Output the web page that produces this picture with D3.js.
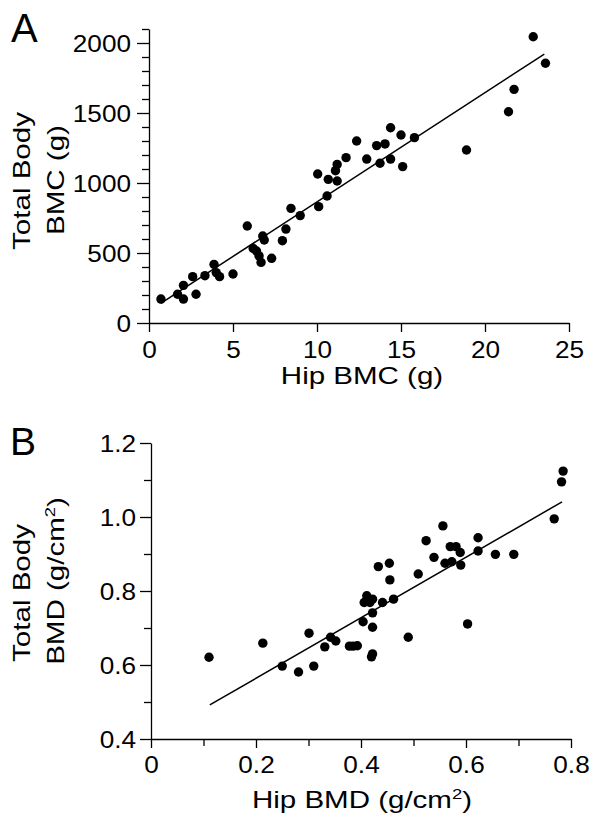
<!DOCTYPE html>
<html><head><meta charset="utf-8">
<script src="https://cdn.jsdelivr.net/npm/d3@7"></script>
<style>
html,body{margin:0;padding:0;background:#fff;}
svg{display:block;}
text{font-family:"Liberation Sans",Arial,Helvetica,sans-serif;fill:#000;}
</style></head>
<body>
<svg id="chart" width="590" height="817"></svg>
<script>
// Panel A: Hip BMC (g) vs Total Body BMC (g)
const hipBMC = [0.71,1.7,2.05,2.05,2.6,2.8,3.33,3.87,4.0,4.2,5.0,5.85,6.2,6.4,6.55,6.67,6.77,6.86,7.3,7.94,8.15,8.45,9.0,10.1,10.6,10.04,10.67,11.2,11.1,11.2,11.73,12.36,12.96,13.55,14.05,13.75,14.38,14.38,15.0,15.1,15.8,18.9,21.4,21.73,22.87,23.6];
const tbBMC  = [171,205,171,269,331,205,338,419,360,331,350,693,533,514,479,433,621,593,462,588,671,819,767,831,907,1064,1026,1014,1088,1133,1181,1300,1171,1267,1279,1141,1171,1395,1343,1117,1324,1236,1509,1669,2045,1855];
const fitA_x = [0.7, 23.53];
const fitA_y = [140, 1921];
const xTicksA = [0,5,10,15,20,25];
const yMajorA = [0,500,1000,1500,2000];
const yMinorA = [100,200,300,400,600,700,800,900,1100,1200,1300,1400,1600,1700,1800,1900,2100];

// Panel B: Hip BMD vs Total Body BMD (g/cm2)
const hipBMD = [0.1105,0.213,0.25,0.281,0.301,0.31,0.331,0.342,0.352,0.378,0.385,0.393,0.404,0.406,0.411,0.417,0.422,0.422,0.422,0.42,0.422,0.433,0.49,0.441,0.462,0.455,0.454,0.509,0.524,0.539,0.556,0.56,0.573,0.57,0.581,0.589,0.59,0.603,0.623,0.623,0.656,0.691,0.768,0.782,0.785];
const tbBMD  = [0.621,0.659,0.597,0.581,0.686,0.597,0.649,0.675,0.665,0.651,0.651,0.652,0.717,0.769,0.787,0.769,0.778,0.741,0.702,0.622,0.63,0.866,0.675,0.769,0.778,0.83,0.875,0.846,0.936,0.891,0.976,0.875,0.879,0.92,0.92,0.904,0.87,0.711,0.944,0.908,0.899,0.899,0.995,1.095,1.124];
const fitB_x = [0.112, 0.783];
const fitB_y = [0.492, 1.041];
const xMajorB = [0,0.2,0.4,0.6,0.8];
const xMinorB = [0.1,0.3,0.5,0.7];
const yMajorB = [0.4,0.6,0.8,1.0,1.2];
const yMinorB = [0.5,0.7,0.9,1.1];

const svg = d3.select("#chart");
const TICKFS = 24, TSX = 1.09, TITLEFS = 24, TITLESX = 1.23;

function drawPanel(o){
  const g = svg.append("g");
  const x = d3.scaleLinear().domain(o.xDomain).range(o.xRange);
  const y = d3.scaleLinear().domain(o.yDomain).range(o.yRange);

  if (o.yMinor.length){
    g.append("g").attr("transform",`translate(${o.xRange[0]},0)`)
      .call(d3.axisLeft(y).tickValues(o.yMinor).tickSize(7).tickFormat(""))
      .call(s=>s.select(".domain").remove());
  }
  if (o.xMinor.length){
    g.append("g").attr("transform",`translate(0,${o.yRange[0]})`)
      .call(d3.axisBottom(x).tickValues(o.xMinor).tickSize(7).tickFormat(""))
      .call(s=>s.select(".domain").remove());
  }
  const ya = g.append("g").attr("transform",`translate(${o.xRange[0]},0)`)
    .call(d3.axisLeft(y).tickValues(o.yMajor).tickSize(o.yTick).tickSizeOuter(0).tickFormat(o.yFmt));
  ya.selectAll("text").attr("x",0).attr("dy","0.35em")
    .attr("transform",`translate(${-o.yLabelGap},0) scale(${TSX},1)`);
  const xa = g.append("g").attr("transform",`translate(0,${o.yRange[0]})`)
    .call(d3.axisBottom(x).tickValues(o.xMajor).tickSize(9).tickSizeOuter(0).tickFormat(o.xFmt));
  xa.selectAll("text").attr("y",o.xLabelY).attr("dy","0.71em")
    .attr("transform",`scale(${TSX},1)`);
  g.selectAll(".tick line, .domain").attr("stroke","#000").attr("stroke-width",1.3);
  g.selectAll(".tick text").attr("font-size",TICKFS).attr("fill","#000")
    .attr("font-family",'"Liberation Sans",Arial,sans-serif');

  g.append("line")
    .attr("x1",x(o.fitX[0])).attr("y1",y(o.fitY[0]))
    .attr("x2",x(o.fitX[1])).attr("y2",y(o.fitY[1]))
    .attr("stroke","#000").attr("stroke-width",1.5);

  g.append("g").selectAll("circle").data(o.xs.map((v,i)=>[v,o.ys[i]])).join("circle")
    .attr("cx",d=>x(d[0])).attr("cy",d=>y(d[1])).attr("r",4.7).attr("fill","#000");

  const xt = g.append("text")
    .attr("text-anchor","middle").attr("font-size",TITLEFS)
    .attr("transform",`translate(${o.xTitlePos[0]},${o.xTitlePos[1]}) scale(${TITLESX},1)`);
  o.xTitle(xt);

  const yc = o.yTitleCenter;
  g.append("text").attr("text-anchor","middle").attr("font-size",TITLEFS)
    .attr("transform",`translate(30,${yc[0]}) rotate(-90) scale(${TITLESX},1)`)
    .text("Total Body");
  const yt2 = g.append("text").attr("text-anchor","middle").attr("font-size",TITLEFS)
    .attr("transform",`translate(64,${yc[1]}) rotate(-90) scale(${TITLESX},1)`);
  o.yTitle2(yt2);

  g.append("text").attr("x",o.letterPos[0]).attr("y",o.letterPos[1])
    .attr("font-size",o.letterSize).text(o.letter);
}

drawPanel({
  xDomain:[0,25], xRange:[149,569], yDomain:[0,2100], yRange:[323,29],
  xMajor:xTicksA, xMinor:[], yMajor:yMajorA, yMinor:yMinorA,
  yTick:12, yLabelGap:18, xLabelY:18,
  xFmt:d3.format("d"), yFmt:d3.format("d"),
  xs:hipBMC, ys:tbBMC, fitX:fitA_x, fitY:fitA_y,
  xTitlePos:[362,384], xTitle:t=>t.text("Hip BMC (g)"),
  yTitleCenter:[181,180], yTitle2:t=>t.text("BMC (g)"),
  letter:"A", letterPos:[11,42], letterSize:40
});

function sup(t,base){
  t.append("tspan").text(base);
  t.append("tspan").attr("font-size",15).attr("dy","-0.6em").text("2");
  t.append("tspan").attr("dy","0.38em").text(")");
}

drawPanel({
  xDomain:[0,0.8], xRange:[151,571], yDomain:[0.4,1.2], yRange:[739,443],
  xMajor:xMajorB, xMinor:xMinorB, yMajor:yMajorB, yMinor:yMinorB,
  yTick:11, yLabelGap:15, xLabelY:17,
  xFmt:d=>d===0?"0":d3.format(".1f")(d), yFmt:d3.format(".1f"),
  xs:hipBMD, ys:tbBMD, fitX:fitB_x, fitY:fitB_y,
  xTitlePos:[362,808], xTitle:t=>sup(t,"Hip BMD (g/cm"),
  yTitleCenter:[593,581], yTitle2:t=>sup(t,"BMD (g/cm"),
  letter:"B", letterPos:[10,455], letterSize:39
});
</script>
</body></html>
